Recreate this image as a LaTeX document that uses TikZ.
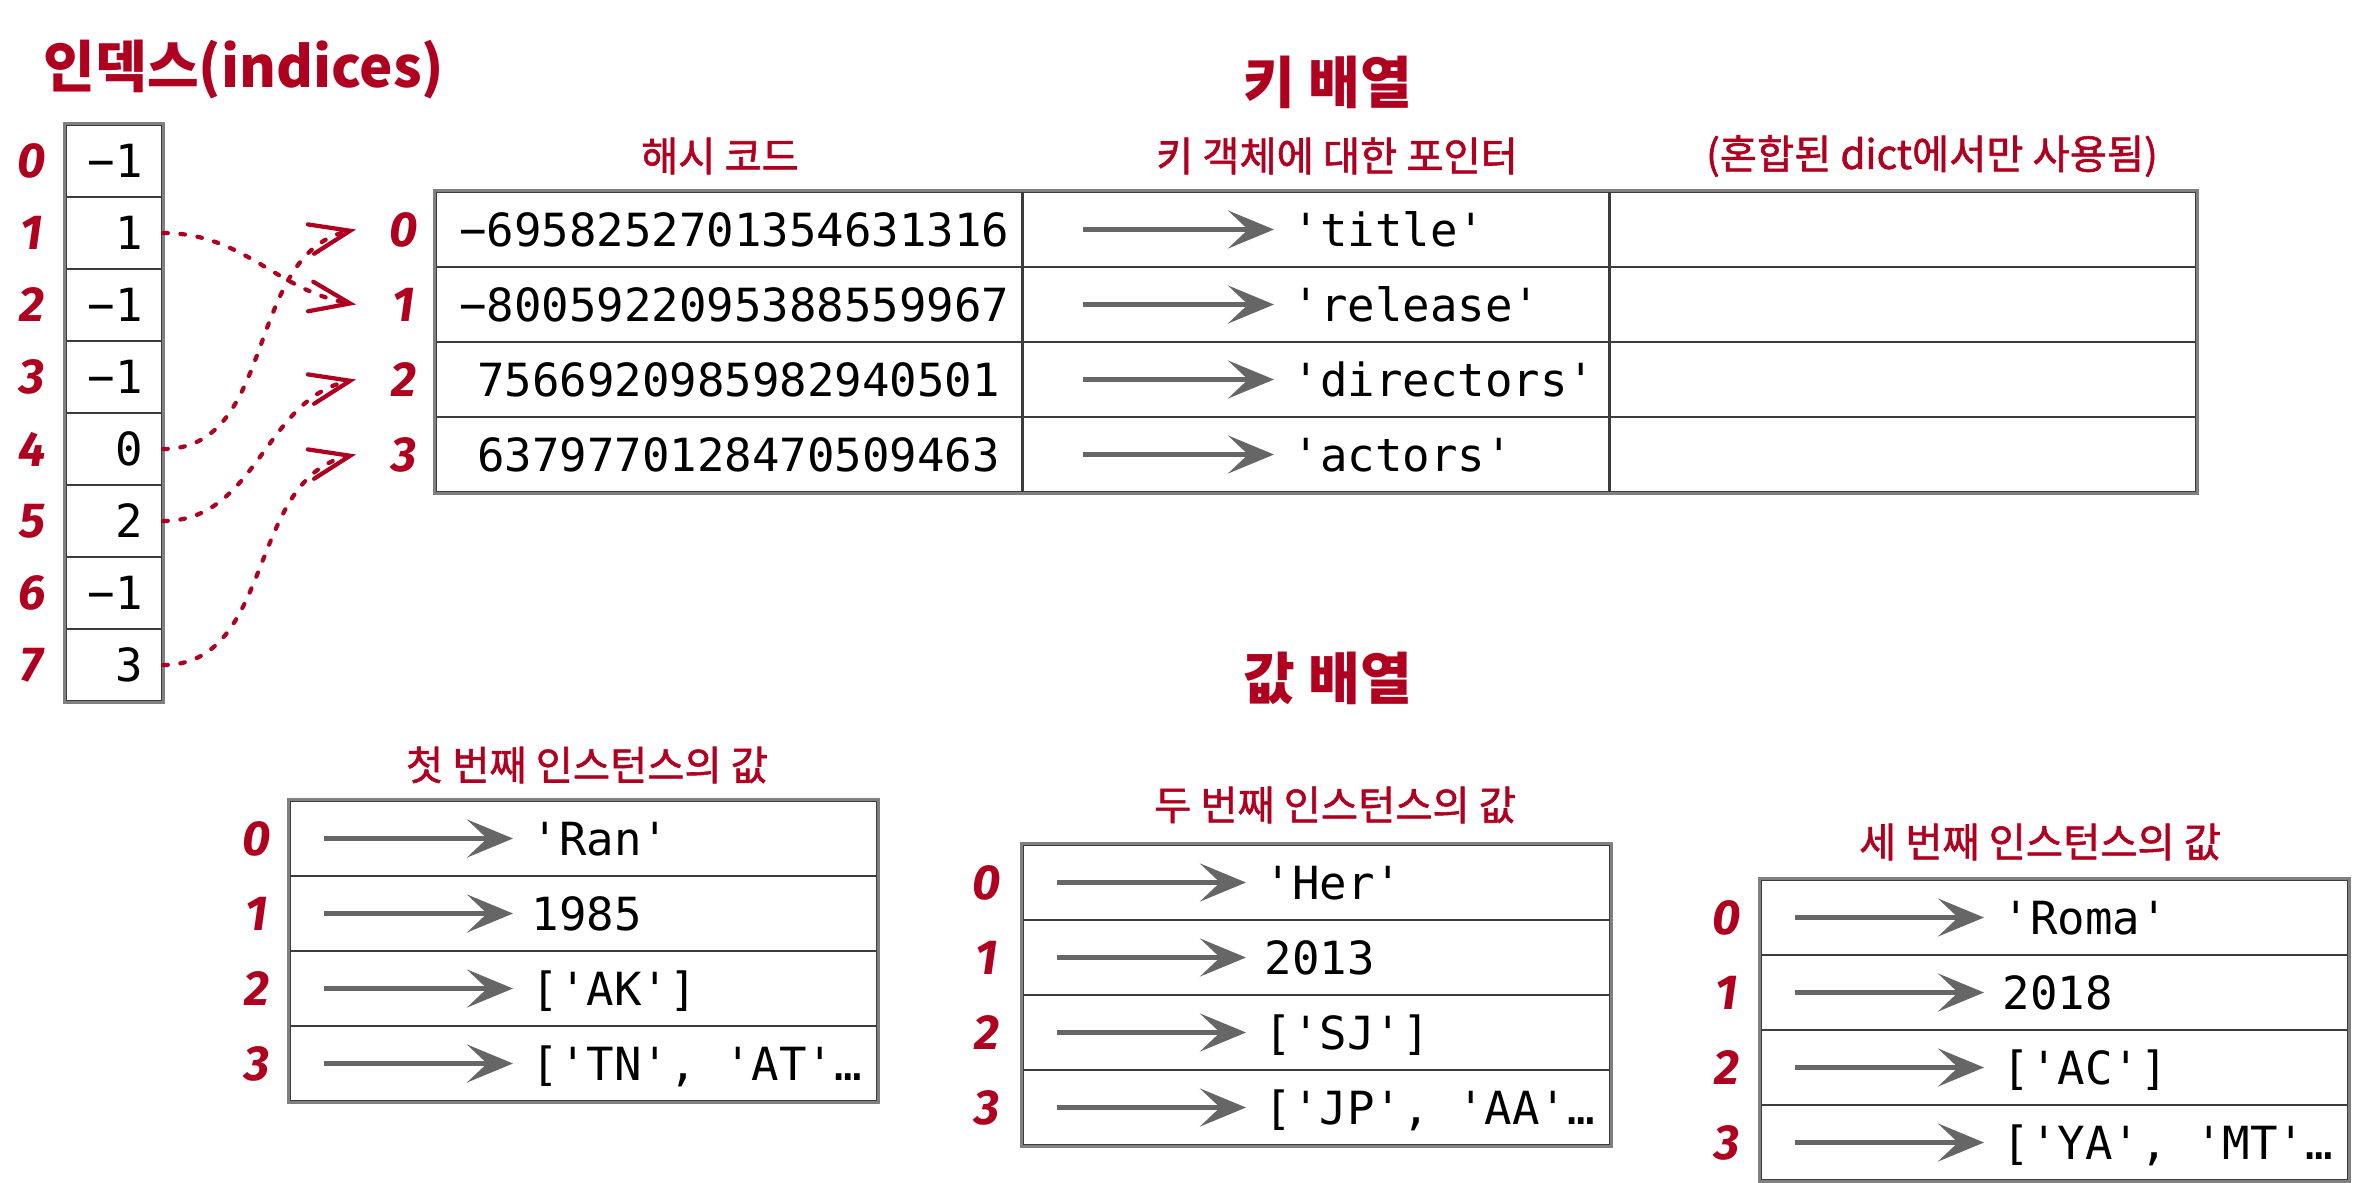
\documentclass[tikz,border=0pt]{standalone}
\usepackage{fontspec}
\usepackage{xcolor}
\usepackage{tikz}
\usetikzlibrary{arrows.meta}
\usetikzlibrary{positioning, fit}
\setmonofont{DejaVu Sans Mono}
\newfontfamily\krfont{Noto Sans CJK KR}
\newfontfamily\krheadfont{Noto Sans CJK KR}[FakeBold = 1.4]
\newfontfamily\numfont{Fira Sans}
\definecolor{dictred}{HTML}{B00020}
\definecolor{linegray}{HTML}{3C3C3C}
\definecolor{framegray}{HTML}{808080}
\definecolor{ptrgray}{HTML}{666666}
\tikzset{ 
title/.style = { text = dictred, font = \krfont\bfseries\fontsize{16}{19}\selectfont, inner sep = 0pt },
header/.style = { text = dictred, font = \krheadfont\fontsize{11.5}{13}\selectfont, inner sep = 0pt },
num/.style = { text = dictred, font = \numfont\bfseries\itshape\fontsize{14}{16}\selectfont, inner sep = 0pt },
code/.style = { font = \ttfamily\fontsize{13}{15}\selectfont, inner sep = 0pt, text height = 9.5pt, text depth = 0pt, anchor = west },
index cell/.style = { rectangle, draw = linegray, line width = 0.7pt, minimum width = 9.6mm, minimum height = 7.2mm, text width = 5.8mm, inner xsep = 1.9mm, inner ysep = 0pt, align = right, text height = 9.5pt, text depth = 0pt, font = \ttfamily\fontsize{13}{15}\selectfont },
hash cell/.style = { rectangle, draw = linegray, line width = 0.7pt, minimum width = 58.7mm, minimum height = 7.5mm, text width = 54.1mm, inner xsep = 2.3mm, inner ysep = 0pt, align = right, text height = 9.5pt, text depth = 0pt, font = \ttfamily\fontsize{13}{15}\selectfont },
box cell/.style = { rectangle, draw = linegray, line width = 0.7pt, minimum width = 58.7mm, minimum height = 7.5mm, inner sep = 0pt },
frame/.style = { rectangle, draw = framegray, line width = 0.8pt, inner sep = 0pt },
link/.style = { draw = dictred, line width = 1.2pt, line cap = round, dash pattern = on 1.3pt off 3.6pt, -{Straight Barb[length = 4mm, width = 3mm, line cap = round]} },
ptr/.style = { draw = ptrgray, line width = 1.3pt, -{Stealth[length = 4.6mm, width = 3.8mm, inset = 2mm]}, shorten >=1.8mm },
}

\begin{document}
\begin{tikzpicture}
    \useasboundingbox (0, 0) rectangle (23.54, -11.83);
    % indices
    \node[title] (ititle) at (2.44, -0.70) {인덱스(indices)};
    \node[index cell] (i0) at (1.14, -1.61) {−1};
    \node[index cell] (i1) at (1.14, -2.33) {1};
    \node[index cell] (i2) at (1.14, -3.05) {−1};
    \node[index cell] (i3) at (1.14, -3.77) {−1};
    \node[index cell] (i4) at (1.14, -4.49) {0};
    \node[index cell] (i5) at (1.14, -5.21) {2};
    \node[index cell] (i6) at (1.14, -5.93) {−1};
    \node[index cell] (i7) at (1.14, -6.65) {3};
    \node[frame, fit = (i0) (i7)] (ibox) {};
    \node[num] (il0) at (0.32, -1.61) {0};
    \node[num] (il1) at (0.32, -2.33) {1};
    \node[num] (il2) at (0.32, -3.05) {2};
    \node[num] (il3) at (0.32, -3.77) {3};
    \node[num] (il4) at (0.32, -4.49) {4};
    \node[num] (il5) at (0.32, -5.21) {5};
    \node[num] (il6) at (0.32, -5.93) {6};
    \node[num] (il7) at (0.32, -6.65) {7};
    % key array
    \node[title] (ktitle) at (13.28, -0.82) {키 배열};
    \node[header] (hhash) at (7.20, -1.56) {해시 코드};
    \node[header] (hkey) at (13.37, -1.56) {키 객체에 대한 포인터};
    \node[header] (hmix) at (19.32, -1.56) {(혼합된 dict에서만 사용됨)};
    \node[hash cell] (h0) at (7.295, -2.295) {−6958252701354631316};
    \node[hash cell] (h1) at (7.295, -3.045) {−8005922095388559967};
    \node[hash cell] (h2) at (7.295, -3.795) {7566920985982940501};
    \node[hash cell] (h3) at (7.295, -4.545) {6379770128470509463};
    \node[box cell] (p0) at (13.16, -2.295) {};
    \node[box cell] (p1) at (13.16, -3.045) {};
    \node[box cell] (p2) at (13.16, -3.795) {};
    \node[box cell] (p3) at (13.16, -4.545) {};
    \node[box cell] (m0) at (19.025, -2.295) {};
    \node[box cell] (m1) at (19.025, -3.045) {};
    \node[box cell] (m2) at (19.025, -3.795) {};
    \node[box cell] (m3) at (19.025, -4.545) {};
    \node[frame, fit = (h0) (m3)] (kbox) {};
    \node[num] (kl0) at (4.04, -2.295) {0};
    \node[num] (kl1) at (4.04, -3.045) {1};
    \node[num] (kl2) at (4.04, -3.795) {2};
    \node[num] (kl3) at (4.04, -4.545) {3};
    \coordinate (kp0) at ([xshift = -4.8mm] kl0.center);
    \coordinate (kp1) at ([xshift = -4.8mm] kl1.center);
    \coordinate (kp2) at ([xshift = -4.8mm] kl2.center);
    \coordinate (kp3) at ([xshift = -4.8mm] kl3.center);
    \node[code] (kt0) at (12.92, -2.295) {'title'};
    \node[code] (kt1) at (12.92, -3.045) {'release'};
    \node[code] (kt2) at (12.92, -3.795) {'directors'};
    \node[code] (kt3) at (12.92, -4.545) {'actors'};
    \coordinate (ka0) at (10.83, -2.295);
    \coordinate (ka1) at (10.83, -3.045);
    \coordinate (ka2) at (10.83, -3.795);
    \coordinate (ka3) at (10.83, -4.545);
    \draw[ptr] (ka0) -- (kt0.west);
    \draw[ptr] (ka1) -- (kt1.west);
    \draw[ptr] (ka2) -- (kt2.west);
    \draw[ptr] (ka3) -- (kt3.west);
    \draw[link] (i1.east) to[out = 0, in = 170] (kp1);
    \draw[link] (i4.east) to[out = 0, in = 192] (kp0);
    \draw[link] (i5.east) to[out = 0, in = 192] (kp2);
    \draw[link] (i7.east) to[out = 0, in = 192] (kp3);
    % value arrays
    \node[title] (vtitle) at (13.28, -6.78) {값 배열};
    \node[header] (ha) at (5.87, -7.65) {첫 번째 인스턴스의 값};
    \node[box cell] (a0) at (5.835, -8.385) {};
    \node[box cell] (a1) at (5.835, -9.135) {};
    \node[box cell] (a2) at (5.835, -9.885) {};
    \node[box cell] (a3) at (5.835, -10.635) {};
    \node[frame, fit = (a0) (a3)] (abox) {};
    \node[num] (al0) at (2.57, -8.385) {0};
    \node[num] (al1) at (2.57, -9.135) {1};
    \node[num] (al2) at (2.57, -9.885) {2};
    \node[num] (al3) at (2.57, -10.635) {3};
    \node[code] (at0) at (5.31, -8.385) {'Ran'};
    \node[code] (at1) at (5.31, -9.135) {1985};
    \node[code] (at2) at (5.31, -9.885) {['AK']};
    \node[code] (at3) at (5.31, -10.635) {['TN', 'AT'…};
    \coordinate (aa0) at (3.24, -8.385);
    \coordinate (aa1) at (3.24, -9.135);
    \coordinate (aa2) at (3.24, -9.885);
    \coordinate (aa3) at (3.24, -10.635);
    \draw[ptr] (aa0) -- (at0.west);
    \draw[ptr] (aa1) -- (at1.west);
    \draw[ptr] (aa2) -- (at2.west);
    \draw[ptr] (aa3) -- (at3.west);
    \node[header] (hb) at (13.35, -8.05) {두 번째 인스턴스의 값};
    \node[box cell] (b0) at (13.165, -8.825) {};
    \node[box cell] (b1) at (13.165, -9.575) {};
    \node[box cell] (b2) at (13.165, -10.325) {};
    \node[box cell] (b3) at (13.165, -11.075) {};
    \node[frame, fit = (b0) (b3)] (bbox) {};
    \node[num] (bl0) at (9.87, -8.825) {0};
    \node[num] (bl1) at (9.87, -9.575) {1};
    \node[num] (bl2) at (9.87, -10.325) {2};
    \node[num] (bl3) at (9.87, -11.075) {3};
    \node[code] (bt0) at (12.64, -8.825) {'Her'};
    \node[code] (bt1) at (12.64, -9.575) {2013};
    \node[code] (bt2) at (12.64, -10.325) {['SJ']};
    \node[code] (bt3) at (12.64, -11.075) {['JP', 'AA'…};
    \coordinate (ba0) at (10.57, -8.825);
    \coordinate (ba1) at (10.57, -9.575);
    \coordinate (ba2) at (10.57, -10.325);
    \coordinate (ba3) at (10.57, -11.075);
    \draw[ptr] (ba0) -- (bt0.west);
    \draw[ptr] (ba1) -- (bt1.west);
    \draw[ptr] (ba2) -- (bt2.west);
    \draw[ptr] (ba3) -- (bt3.west);
    \node[header] (hc) at (20.40, -8.42) {세 번째 인스턴스의 값};
    \node[box cell] (c0) at (20.545, -9.175) {};
    \node[box cell] (c1) at (20.545, -9.925) {};
    \node[box cell] (c2) at (20.545, -10.675) {};
    \node[box cell] (c3) at (20.545, -11.425) {};
    \node[frame, fit = (c0) (c3)] (cbox) {};
    \node[num] (cl0) at (17.27, -9.175) {0};
    \node[num] (cl1) at (17.27, -9.925) {1};
    \node[num] (cl2) at (17.27, -10.675) {2};
    \node[num] (cl3) at (17.27, -11.425) {3};
    \node[code] (ct0) at (20.02, -9.175) {'Roma'};
    \node[code] (ct1) at (20.02, -9.925) {2018};
    \node[code] (ct2) at (20.02, -10.675) {['AC']};
    \node[code] (ct3) at (20.02, -11.425) {['YA', 'MT'…};
    \coordinate (ca0) at (17.95, -9.175);
    \coordinate (ca1) at (17.95, -9.925);
    \coordinate (ca2) at (17.95, -10.675);
    \coordinate (ca3) at (17.95, -11.425);
    \draw[ptr] (ca0) -- (ct0.west);
    \draw[ptr] (ca1) -- (ct1.west);
    \draw[ptr] (ca2) -- (ct2.west);
    \draw[ptr] (ca3) -- (ct3.west);
\end{tikzpicture}
\end{document}
